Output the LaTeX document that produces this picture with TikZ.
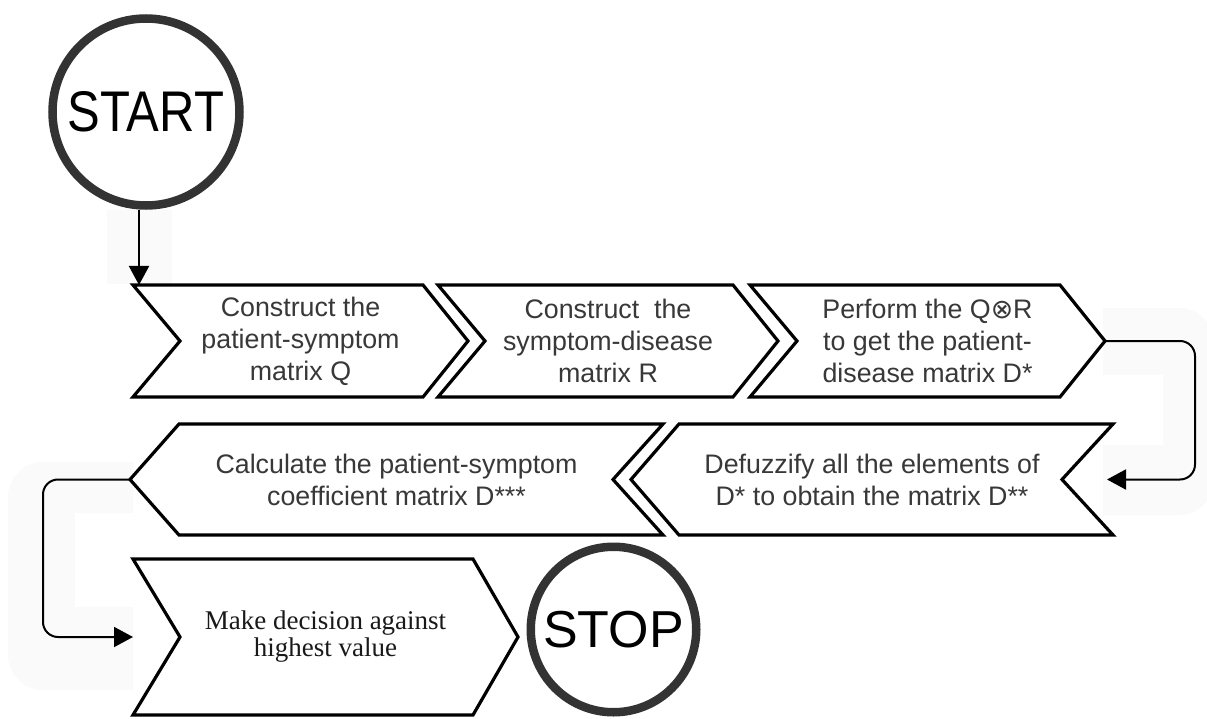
\documentclass[tikz,border=0pt]{standalone}
\usepackage{fontspec}
\setmainfont{Liberation Sans}
\newfontfamily\seriffont{Liberation Serif}
\newfontfamily\symfont{DejaVu Sans}
\usetikzlibrary{arrows.meta,backgrounds}
\definecolor{ringc}{HTML}{333333}
\definecolor{txt}{HTML}{383838}
\definecolor{wm}{HTML}{FAFAFA}
\newcommand\rchev[3]{\draw[chev] (#1.north west) -- ([xshift=-#2]#1.north east) -- (#1.east) -- ([xshift=-#2]#1.south east) -- (#1.south west) -- ([xshift=#3]#1.west) -- cycle;}
\newcommand\lchev[3]{\draw[chev] (#1.west) -- ([xshift=#2]#1.north west) -- (#1.north east) -- ([xshift=-#3]#1.east) -- (#1.south east) -- ([xshift=#2]#1.south west) -- cycle;}
\begin{document}
\begin{tikzpicture}[x=1pt,y=-1pt,
  box/.style={inner sep=0pt, outer sep=0pt, align=center, text=txt, font=\fontsize{26.8}{32}\selectfont},
  chev/.style={draw=black, line width=3.2pt, fill=white},
  ringnode/.style={circle, draw=ringc, line width=8.5pt, inner sep=0pt, fill=white, text=black},
  arr/.style={draw=black, line width=2pt, -{Triangle[length=19pt,width=20pt]}},
]
\useasboundingbox (0,0) rectangle (1207,719);

% nodes
\node[box, minimum width=335pt, minimum height=112pt] (c1) at (300.5,341) {Construct the\\patient-symptom\\matrix Q};
\node[box, minimum width=340pt, minimum height=112pt] (c2) at (608,341) {Construct\ \ the\\symptom-disease\\matrix R};
\node[box, minimum width=355pt, minimum height=112pt] (c3) at (927.5,341) {Perform the Q{\symfont ⊗}R\\to get the patient-\\disease matrix D*};
\node[box, minimum width=482pt, minimum height=111pt] (c4) at (872,479.5) {Defuzzify all the elements of\\D* to obtain the matrix D**};
\node[box, minimum width=533pt, minimum height=111pt] (c5) at (396.5,479.5) {Calculate the patient-symptom\\coefficient matrix D***};
\node[box, minimum width=385pt, minimum height=156pt, text=black!90, font=\seriffont\fontsize{27}{27}\selectfont] (c6) at (325.5,637) {Make decision against\\highest value};

\node[ringnode, minimum size=187pt] (start) at (146,112) {\fontsize{49}{49}\selectfont\scalebox{1}[1.17]{START}};
\node[ringnode, minimum size=165.5pt] (stop) at (613.5,629.5) {\fontsize{52}{52}\selectfont STOP};

\begin{pgfonlayer}{background}
  % faint background marks
  \fill[wm] (107,210) rectangle (172,284);
  \fill[wm] (133,462) {[rounded corners=35pt] -- (8,462) -- (8,690)} -- (133,690) -- cycle;
  \fill[white] (75,513) rectangle (133,607);
  \fill[wm] (1103,308) {[rounded corners=35pt] -- (1214,308) -- (1214,515)} -- (1103,515) -- cycle;
  \fill[white] (1103,375) rectangle (1163,445);
  % chevrons
  \rchev{c1}{45}{47}
  \rchev{c2}{45}{47}
  \rchev{c3}{45}{47}
  \lchev{c4}{48}{51}
  \lchev{c5}{49}{50}
  \rchev{c6}{45}{47}
\end{pgfonlayer}

% connectors
\coordinate (a1) at ([xshift=6pt]c1.north west);
\draw[arr] (a1 |- start.south) -- (a1);
\draw[arr, rounded corners=15pt] (c3.east) -- ++(90,0) |- ([xshift=-6pt]c4.east);
\draw[arr, rounded corners=15pt] (c5.west) -- ++(-87,0) |- (c6.west);
\end{tikzpicture}
\end{document}
